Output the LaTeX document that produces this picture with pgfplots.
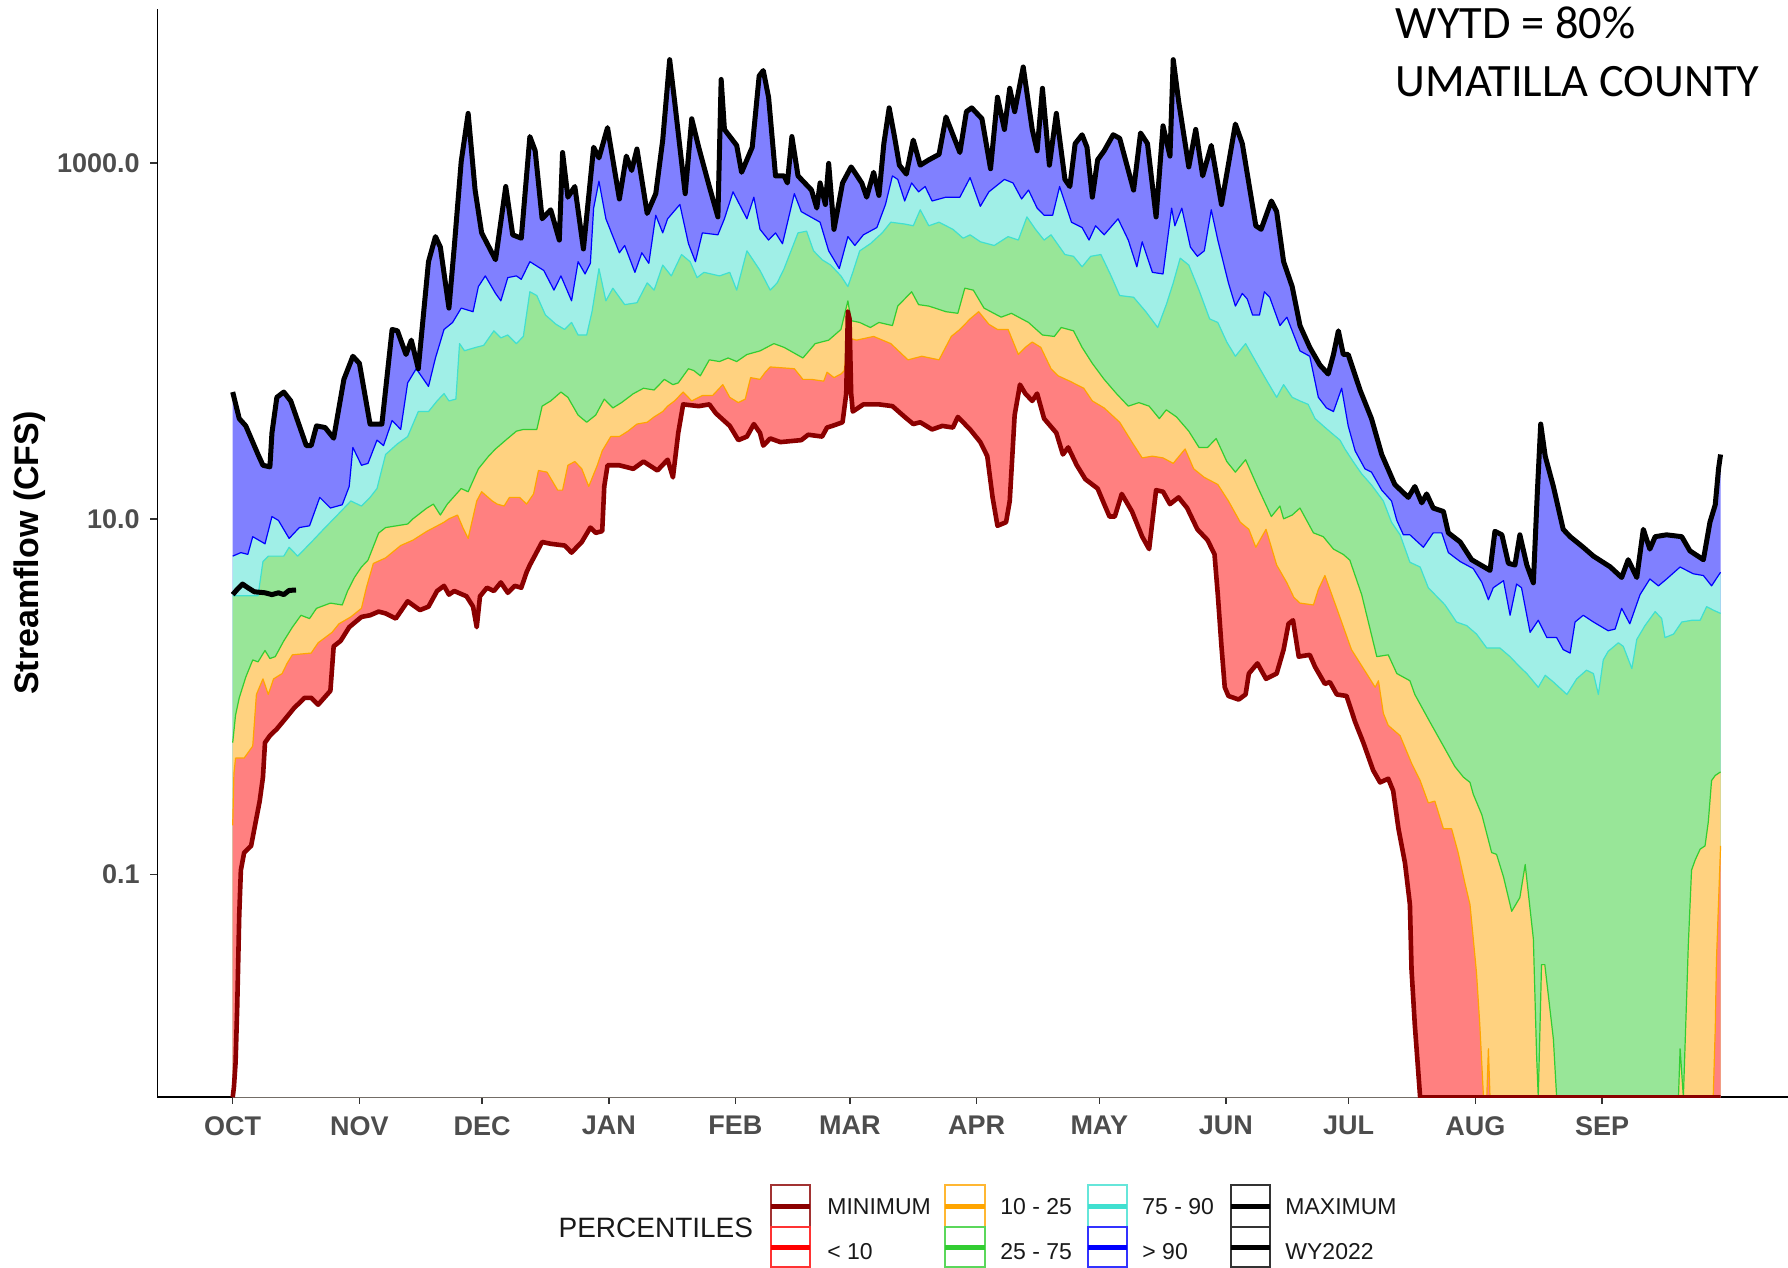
\documentclass[border=0pt]{standalone}
\usepackage{fontspec}
\setmainfont{Liberation Sans}
\newfontfamily\calibri{Carlito}
\usepackage{pgfplots}
\usepackage{pgfplotstable}
\pgfplotsset{compat=1.18}
\definecolor{tickgray}{HTML}{4D4D4D}
\definecolor{fblue}{HTML}{8080FF}
\definecolor{fcyan}{HTML}{A0EFE7}
\definecolor{fgreen}{HTML}{98E698}
\definecolor{forange}{HTML}{FFD280}
\definecolor{fred}{HTML}{FF8080}
\definecolor{lturq}{HTML}{40E0D0}
\definecolor{lgreen}{HTML}{32CD32}
\definecolor{lorange}{HTML}{FFA500}
\definecolor{ldarkred}{HTML}{8B0000}
\newcommand{\ticklabelfont}{\fontsize{13.5bp}{16bp}\selectfont\bfseries}
\newcommand{\ylabfont}{\fontsize{17bp}{20bp}\selectfont\bfseries}

\pgfplotstableread[row sep=\\]{
x y\\
0 51.6\\ 1.6 36.6\\ 3.2 33.3\\ 6.2 23.0\\ 7.4 20.0\\ 9.1 19.6\\ 9.6 30.4\\ 10.8 48.2\\ 12.5 51.6\\ 14.2 46.0\\
18 25.8\\ 19.2 25.8\\ 20.5 33.3\\ 22.6 32.6\\ 24.7 28.4\\ 27.2 60.8\\ 29.4 82.0\\ 31 74.8\\ 33.6 34.1\\ 36.5 34.1\\
39 116\\ 40.3 114\\ 42.4 83.9\\ 43.7 101\\ 45.4 69.8\\ 47.9 279\\ 49.6 386\\ 50.8 337\\ 52.9 153\\ 54.2 337\\
55.9 1019\\ 57.6 1901\\ 59.3 705\\ 60.9 405\\ 64.3 286\\ 66.8 738\\ 68.5 395\\ 70.6 378\\ 72.7 1409\\ 74 1172\\
75.7 486\\ 77.8 546\\ 79.9 369\\ 80.7 1146\\ 82 643\\ 83.7 738\\ 85.8 329\\ 88.3 1227\\ 89.6 1069\\ 91.7 1581\\
94.6 628\\ 96.3 1094\\ 97.6 908\\ 98.9 1199\\ 101.4 521\\ 103.5 673\\ 105.2 1346\\ 106.9 3811\\ 108.1 2239\\ 110.7 673\\
112.3 1774\\ 114 1227\\ 116.6 738\\ 118.7 498\\ 119.5 2951\\ 120.3 1545\\ 123.3 1256\\ 124.5 887\\ 127.1 1227\\ 128.8 3090\\
129.8 3311\\ 131.1 2344\\ 132.8 847\\ 134.9 847\\ 135.7 773\\ 136.8 1409\\ 138.3 847\\ 141.6 705\\ 142.9 558\\ 143.7 773\\
145 585\\ 145.8 995\\ 147.1 424\\ 149.2 773\\ 151.3 951\\ 153.9 773\\ 155.1 643\\ 156.8 887\\ 158.1 658\\ 159.3 1285\\
160.6 2042\\ 161.9 1409\\ 163.1 973\\ 164.8 867\\ 166.5 1346\\ 168.2 973\\ 170.3 1042\\ 172.8 1119\\ 174.5 1816\\ 176.2 1442\\
177.9 1146\\ 179.5 1945\\ 180.8 2042\\ 183.3 1774\\ 185.4 929\\ 187.1 2344\\ 188.8 1545\\ 190.1 2630\\ 191.3 1945\\ 193.4 3467\\
195.6 1545\\ 196.8 1172\\ 198.1 2630\\ 199.8 973\\ 201.5 1901\\ 203.6 809\\ 204.8 738\\ 206.1 1285\\ 207.8 1442\\ 209 1227\\
210.3 643\\ 211.6 1042\\ 213.2 1172\\ 215.4 1442\\ 217 1377\\ 220.4 705\\ 222.1 1476\\ 223.8 1285\\ 225.9 498\\ 227.6 1618\\
229.3 1094\\ 230.1 3811\\ 231.4 2239\\ 233.9 951\\ 235.6 1545\\ 237.3 847\\ 239.4 1256\\ 241.9 585\\ 245.3 1656\\ 247 1285\\
250.3 444\\ 251.6 424\\ 254.1 612\\ 255.4 533\\ 257.1 279\\ 259.2 202\\ 261.1 122\\ 263.5 92.0\\ 266 73.1\\ 268 65.2\\
269.3 83.9\\ 270.5 114\\ 271.7 83.9\\ 272.9 83.9\\ 275.8 53.0\\ 278.6 36.6\\ 281.1 23.0\\ 284.3 15.6\\ 287.6 13.2\\ 289.2 15.2\\
290.9 12.3\\ 292.1 13.8\\ 293.7 11.5\\ 296.2 11.0\\ 297.4 8.34\\ 300.3 7.41\\ 303.1 5.89\\ 307.6 5.13\\ 308.8 8.51\\ 310.5 8.13\\
312.1 5.62\\ 313.7 5.50\\ 314.9 8.13\\ 316.6 5.50\\ 318.2 4.37\\ 319.2 14.5\\ 320 34.1\\ 321.1 22.5\\ 323.1 15.2\\ 325.5 8.73\\
327.2 7.94\\ 330.4 6.92\\ 332.9 6.17\\ 337 5.37\\ 339.8 4.68\\ 341.4 5.89\\ 343.5 4.68\\ 345.1 8.73\\ 346.7 6.76\\ 348 7.94\\
350.8 8.13\\ 354.5 7.94\\ 356.5 6.61\\ 359.8 5.89\\ 361.4 9.57\\ 362.7 12.0\\ 363.5 19.1\\ 364 23.0\\
}\tmax

\pgfplotstableread[row sep=\\]{
x y\\
0 6.17\\ 2 6.46\\ 3.7 6.31\\ 4.9 7.94\\ 7.9 7.24\\ 9.6 10.3\\ 11.2 9.79\\ 13.8 7.76\\ 16.3 8.93\\ 18.8 9.14\\
21.3 13.2\\ 23.9 11.5\\ 26.8 12.0\\ 28.5 15.2\\ 29.4 25.2\\ 31.5 20.0\\ 33.1 20.5\\ 35.3 27.7\\ 36.9 25.8\\ 39 35.7\\
41.1 31.8\\ 42.8 58.1\\ 44.9 69.8\\ 47.9 55.5\\ 49.6 80.2\\ 51.7 116\\ 53.8 127\\ 55.9 153\\ 58.8 146\\ 60.1 202\\
61.8 232\\ 64.3 185\\ 65.6 168\\ 67.3 227\\ 69.4 232\\ 70.6 222\\ 72.7 279\\ 76.1 249\\ 78.6 193\\ 80.3 232\\
82.9 168\\ 84.5 279\\ 86.2 238\\ 87.5 273\\ 88.3 558\\ 89.6 791\\ 91.3 486\\ 94.6 313\\ 95.9 344\\ 98.4 243\\
100.1 313\\ 101.8 273\\ 103.5 509\\ 105.2 405\\ 106.4 486\\ 109.4 585\\ 111.5 352\\ 113.2 279\\ 114.9 405\\ 118.7 395\\
120.3 486\\ 122.4 689\\ 125.8 486\\ 127.5 643\\ 129 424\\ 131.1 369\\ 132.8 405\\ 134.5 352\\ 137.4 673\\ 139.1 533\\
143.7 465\\ 145.8 321\\ 148.4 255\\ 150.5 386\\ 152.2 344\\ 154.3 395\\ 157.6 434\\ 159.7 585\\ 161.4 847\\ 162.7 809\\
164.4 612\\ 166.1 773\\ 167.8 689\\ 169.4 738\\ 171.1 612\\ 174.5 643\\ 177.9 643\\ 180.4 828\\ 182.9 571\\ 185 689\\
188.8 809\\ 190.9 773\\ 193 628\\ 194.7 705\\ 196.8 558\\ 198.5 509\\ 200.6 509\\ 202.3 738\\ 205.2 465\\ 207.8 434\\
209.5 369\\ 211.1 444\\ 213.2 395\\ 216.6 486\\ 219.1 369\\ 221.2 261\\ 222.5 361\\ 225 243\\ 227.6 238\\ 229.7 558\\
230.5 444\\ 232.2 558\\ 234.3 337\\ 236 299\\ 237.7 321\\ 239.4 546\\ 241 369\\ 243.6 212\\ 245.3 157\\ 247 185\\
248.2 172\\ 249.5 140\\ 251.2 140\\ 252.4 189\\ 253.7 176\\ 256.2 122\\ 257.9 136\\ 261.1 87.9\\ 263.5 82.0\\ 265.6 48.2\\
267.6 42.0\\ 269.3 40.1\\ 271.3 54.2\\ 272.9 33.3\\ 274.6 24.1\\ 277 19.1\\ 278.6 18.3\\ 281.1 14.5\\ 283.5 12.6\\ 284.8 9.79\\
286.4 8.13\\ 288 8.13\\ 291.3 6.92\\ 293.7 8.34\\ 295.8 8.34\\ 297.4 6.46\\ 300.3 5.75\\ 303.5 5.25\\ 305.6 4.4\\ 307.2 3.51\\
308.4 4.10\\ 310.9 4.49\\ 312.5 2.87\\ 314.1 4.30\\ 315.3 4.10\\ 317.4 2.30\\ 319.4 2.69\\ 321.5 2.15\\ 323.9 2.15\\ 325.5 1.84\\
327.2 1.76\\ 328.4 2.63\\ 330.4 2.87\\ 332.9 2.63\\ 336.5 2.35\\ 338.2 2.40\\ 339.8 3.14\\ 341.8 2.57\\ 344.3 3.75\\ 346.7 4.59\\
348.8 4.20\\ 350.8 4.59\\ 354.1 5.36\\ 357.3 4.91\\ 359.8 4.80\\ 361.8 4.20\\ 364 5.01\\
}\tpninety

\pgfplotstableread[row sep=\\]{
x y\\
0 3.7\\ 6.2 3.7\\ 7.4 5.75\\ 8.7 6.17\\ 12.5 6.17\\ 13.8 6.92\\ 15.9 6.17\\ 19.7 7.59\\ 22.2 8.73\\ 25.6 10.5\\
28.9 12.6\\ 31.5 11.8\\ 33.6 13.2\\ 35.3 14.8\\ 37.4 23.0\\ 40.3 26.4\\ 42.8 29.0\\ 45.4 40.1\\ 47.9 40.1\\ 50 46.0\\
51.7 50.6\\ 52.9 46.0\\ 54.6 47.1\\ 55.5 96.6\\ 56.7 88.1\\ 59.7 92.3\\ 61.4 94.4\\ 63.9 114\\ 65.6 104\\ 67.3 108\\
69.4 96.6\\ 71.1 106\\ 72.7 189\\ 74.4 180\\ 76.5 140\\ 79.1 124\\ 81.2 116\\ 82.9 127\\ 84.5 108\\ 86.6 108\\
87.9 146\\ 89.6 255\\ 91.3 168\\ 93 198\\ 95.9 160\\ 98.9 164\\ 101.4 212\\ 103.1 193\\ 105.2 267\\ 107.3 232\\
109.8 306\\ 111.9 279\\ 113.6 227\\ 115.3 243\\ 119.1 232\\ 121.6 243\\ 123.3 193\\ 125.8 321\\ 129 249\\ 131.5 193\\
133.2 212\\ 134.9 255\\ 138.3 405\\ 140.4 414\\ 142.1 321\\ 144.2 286\\ 146.3 267\\ 148.8 232\\ 150.5 202\\ 151.7 243\\
153.4 321\\ 156 352\\ 158.9 405\\ 161 465\\ 164.4 454\\ 166.5 444\\ 168.2 546\\ 170.3 444\\ 172.8 465\\ 176.2 424\\
178.7 378\\ 180.4 395\\ 182.9 361\\ 186.3 344\\ 189.7 386\\ 192.2 369\\ 194.3 498\\ 196.4 424\\ 198.5 369\\ 200.2 395\\
203.6 306\\ 205.7 299\\ 207.8 261\\ 209.9 299\\ 212.4 306\\ 214.9 232\\ 217 180\\ 220.4 176\\ 223.4 146\\ 226.3 119\\
228.4 160\\ 230.1 212\\ 231.8 292\\ 233.9 267\\ 236.4 193\\ 239 133\\ 241 127\\ 243.2 98.6\\ 245.3 82.0\\ 247.8 96.6\\
250.3 76.6\\ 252.8 60.8\\ 255.4 48.2\\ 257.1 56.8\\ 259.2 48.2\\ 261.1 46.0\\ 263.1 44.0\\ 264.8 36.6\\ 266.8 33.3\\ 268.8 30.4\\
270.9 27.7\\ 272.1 24.7\\ 274.1 21.0\\ 276.2 17.9\\ 278.6 15.5\\ 281.5 12.6\\ 283.5 9.57\\ 285.6 8.13\\ 288 5.7\\ 290.5 5.36\\
292.5 4.10\\ 296.6 3.28\\ 299.4 2.63\\ 301.9 2.51\\ 304.3 2.25\\ 306.8 1.88\\ 310 1.88\\ 312.5 1.68\\ 314.9 1.47\\ 316.6 1.35\\
319.4 1.13\\ 321.1 1.32\\ 323.1 1.21\\ 326.4 1.03\\ 328.8 1.26\\ 331.2 1.41\\ 332.9 1.35\\ 334.1 1.03\\ 335.3 1.61\\ 336.5 1.80\\
339 2.01\\ 340.2 1.92\\ 342.3 1.44\\ 343.5 2.10\\ 345.5 2.51\\ 348 3.01\\ 349.6 2.75\\ 350.4 2.15\\ 352.5 2.25\\ 354.5 2.63\\
357 2.69\\ 359 2.69\\ 360.6 3.21\\ 362.2 3.07\\ 364 2.94\\
}\tpseventyfive

\pgfplotstableread[row sep=\\]{
x y\\
0 0.552\\ 0.7 0.789\\ 1.6 0.986\\ 3.2 1.29\\ 4.9 1.61\\ 6.2 1.57\\ 7.9 1.82\\ 9.1 1.64\\ 10.4 1.68\\ 12.5 2.06\\
14.6 2.46\\ 16.7 2.87\\ 18.8 2.75\\ 20.5 3.14\\ 23.9 3.36\\ 26.8 3.28\\ 28.1 3.93\\ 29.8 4.69\\ 31.5 5.36\\ 33.1 5.86\\
35.7 8.32\\ 37.4 8.93\\ 42.8 9.35\\ 44.1 10.0\\ 47.5 11.5\\ 49.1 12.1\\ 50.8 10.5\\ 52.5 12.1\\ 55.9 14.8\\ 57.6 14.2\\
60.1 19.1\\ 62.6 22.5\\ 64.3 24.7\\ 66.8 27.7\\ 69.4 31.1\\ 71.1 31.8\\ 74.4 31.8\\ 75.7 43.0\\ 77.8 46.0\\ 80.3 51.6\\
82 48.2\\ 84.5 38.3\\ 86.6 34.9\\ 88.8 38.3\\ 90.9 47.1\\ 93 42.0\\ 95.1 45.0\\ 98 50.5\\ 100.5 54.2\\ 103.1 53.0\\
105.6 60.8\\ 107.7 56.8\\ 109 58.1\\ 111.5 69.8\\ 112.8 68.2\\ 114.4 63.7\\ 116.6 78.3\\ 119.1 76.6\\ 121.2 80.2\\ 123.3 76.6\\
125.8 83.9\\ 129 87.9\\ 132.4 96.6\\ 134.9 92.0\\ 139.5 80.2\\ 142.5 96.6\\ 145.8 101\\ 148.8 116\\ 150.5 168\\ 151.3 130\\
153.4 127\\ 156 119\\ 158.1 127\\ 161.4 122\\ 162.7 157\\ 166.1 189\\ 167.8 160\\ 170.3 157\\ 174.5 146\\ 177.4 143\\
179.1 198\\ 181.2 193\\ 183.8 153\\ 188 136\\ 190.5 143\\ 194.7 127\\ 198.1 108\\ 201 106\\ 202.7 119\\ 205.7 114\\
207.8 92.0\\ 210.3 74.8\\ 213.2 60.8\\ 216.2 50.6\\ 219.1 43.0\\ 221.7 45.0\\ 224.2 43.0\\ 226.7 36.6\\ 228.4 41.0\\ 230.9 37.4\\
233.9 31.1\\ 236.4 25.2\\ 238.5 25.2\\ 240.6 28.3\\ 243.2 21.0\\ 245.3 18.3\\ 247.8 21.5\\ 250.7 15.2\\ 254.1 10.3\\ 256.2 11.8\\
257.1 10.0\\ 259.2 10.5\\ 261.1 11.5\\ 264.4 8.34\\ 266.8 7.94\\ 269.3 6.76\\ 271.7 6.31\\ 273.3 5.86\\ 276.2 3.75\\ 279.9 1.68\\
282.7 1.72\\ 284.8 1.35\\ 288 1.23\\ 289.2 1.03\\ 292.9 0.721\\ 296.2 0.528\\ 299 0.405\\ 301.1 0.353\\ 302.7 0.330\\ 303.5 0.283\\
305.6 0.217\\ 308 0.133\\ 309.2 0.130\\ 310.9 0.0970\\ 312.9 0.0622\\ 314.9 0.0743\\ 316.2 0.114\\ 318.2 0.0436\\ 319 0.00955\\ 319.4 0.0056\\
320.2 0.0312\\ 321 0.0312\\ 323.1 0.0119\\ 323.9 0.0056\\ 353.7 0.0056\\ 354.1 0.0105\\ 354.9 0.0056\\ 355.7 0.0204\\ 356.1 0.0398\\ 356.9 0.106\\
357.8 0.121\\ 359 0.139\\ 360.2 0.145\\ 361 0.198\\ 361.8 0.338\\ 362.7 0.361\\ 364 0.378\\
}\tptwentyfive

\pgfplotstableread[row sep=\\]{
x y\\
0 0.189\\ 0.3 0.370\\ 0.7 0.452\\ 2.8 0.452\\ 4.9 0.528\\ 5.8 1.03\\ 7.4 1.26\\ 8.7 1.03\\ 10 1.26\\ 12.1 1.35\\
13.3 1.54\\ 14.6 1.72\\ 19.2 1.76\\ 20.9 2.01\\ 24.3 2.30\\ 26 2.57\\ 28.9 2.81\\ 31.5 3.14\\ 32.7 4.10\\ 34.4 5.61\\
37.4 6.03\\ 41.1 7.08\\ 44.1 7.59\\ 47.5 8.51\\ 51.7 9.57\\ 52.9 10.0\\ 55 10.5\\ 56.3 8.93\\ 57.6 7.76\\ 59.7 12.6\\
60.9 14.2\\ 63.5 12.6\\ 64.7 12.1\\ 66.4 11.8\\ 67.7 13.2\\ 70.2 13.2\\ 71.9 12.1\\ 73.6 13.8\\ 74.8 18.7\\ 76.9 18.3\\
79.5 14.5\\ 80.7 14.5\\ 82 20.0\\ 83.7 21.0\\ 85.4 19.1\\ 87.1 15.2\\ 89.2 20.0\\ 90.4 24.1\\ 92.5 29.0\\ 94.6 29.0\\
96.7 31.1\\ 98.9 34.1\\ 101.4 34.9\\ 103.1 37.4\\ 105.2 40.1\\ 106.4 43.0\\ 108.1 46.0\\ 110.2 51.6\\ 112.3 46.0\\ 114.9 49.3\\
117.4 49.3\\ 119.9 56.8\\ 121.6 48.2\\ 123.7 45.0\\ 125.4 47.1\\ 126.7 62.2\\ 129 60.8\\ 130.3 66.7\\ 131.5 71.4\\ 137.4 69.8\\
139.5 60.8\\ 141.6 60.8\\ 144.6 59.4\\ 145.4 66.7\\ 147.1 62.2\\ 148.8 65.2\\ 149.6 68\\ 150.6 104\\ 152.6 101\\ 156.8 106\\
161 96.6\\ 165.2 78.3\\ 168.6 82.0\\ 172.8 78.3\\ 175.8 106\\ 177.9 116\\ 180.4 133\\ 182.5 146\\ 185 124\\ 187.1 116\\
189.7 116\\ 192.2 83.9\\ 193.9 92.0\\ 195.6 98.6\\ 197.7 92.0\\ 200.2 69.8\\ 201.9 63.7\\ 204.8 59.4\\ 208.2 54.2\\ 210.3 46.0\\
213.2 42.0\\ 217 34.9\\ 220 27.0\\ 222.5 22.0\\ 225 22.5\\ 227.6 22.0\\ 230.1 20.5\\ 233 24.7\\ 235.1 19.1\\ 237.7 17.1\\
241 15.6\\ 243.6 12.6\\ 246.5 9.57\\ 248.6 8.73\\ 250.3 6.92\\ 252.8 8.73\\ 255.4 5.50\\ 257.9 4.37\\ 259.6 3.62\\ 261.1 3.36\\
264.4 3.28\\ 265.6 4.01\\ 267.2 4.80\\ 270.1 3.14\\ 273.7 1.84\\ 277.4 1.35\\ 279.5 1.13\\ 280.3 1.23\\ 281.5 0.807\\ 282.7 0.690\\
285.6 0.604\\ 288.4 0.423\\ 290.5 0.338\\ 292.5 0.253\\ 294.1 0.259\\ 296.2 0.181\\ 298.2 0.181\\ 299.8 0.133\\ 301.5 0.0887\\ 302.7 0.0679\\
303.5 0.0436\\ 304.3 0.0279\\ 305.1 0.0143\\ 306 0.0056\\ 306.8 0.0056\\ 307.2 0.0105\\ 307.6 0.0056\\ 362.2 0.0056\\ 362.7 0.0136\\ 363 0.0333\\
364 0.145\\
}\tpten

\pgfplotstableread[row sep=\\]{
x y\\
0 0.0056\\ 0.3 0.0064\\ 0.7 0.00875\\ 1.1 0.0179\\ 1.6 0.0594\\ 2 0.106\\ 2.8 0.133\\ 4.5 0.145\\ 5.3 0.181\\ 6.6 0.259\\
7.4 0.353\\ 7.9 0.552\\ 9.1 0.604\\ 10.8 0.659\\ 12.9 0.753\\ 15 0.863\\ 17.6 0.986\\ 19.2 0.986\\ 20.9 0.902\\ 23.9 1.08\\
24.7 1.92\\ 26.4 2.06\\ 28.5 2.46\\ 31.5 2.81\\ 33.6 2.87\\ 35.7 3.01\\ 37.4 2.94\\ 39.9 2.75\\ 42.8 3.44\\ 45.8 3.07\\
47.9 3.21\\ 50 3.93\\ 51.7 4.20\\ 52.9 3.75\\ 54.2 3.93\\ 57.2 3.67\\ 58.8 3.21\\ 59.7 2.46\\ 60.5 3.67\\ 62.2 4.10\\
63.9 3.93\\ 65.6 4.39\\ 67.3 3.84\\ 69 4.20\\ 70.6 4.10\\ 71.9 5.01\\ 72.7 5.50\\ 75.7 7.41\\ 77.8 7.24\\ 81.2 7.08\\
82.9 6.46\\ 85.4 7.41\\ 87.5 8.93\\ 88.8 8.34\\ 90.4 8.53\\ 90.9 15.2\\ 91.7 20.0\\ 94.6 20.0\\ 98 19.1\\ 100.5 21.0\\
103.9 18.7\\ 106.4 21.5\\ 107.7 17.1\\ 109 30.4\\ 110.2 44.0\\ 114 43.0\\ 116.6 44.0\\ 118.2 39.2\\ 121.6 33.3\\ 123.7 27.7\\
125.8 29.0\\ 127.5 34.1\\ 129 30.4\\ 129.8 25.8\\ 131.5 28.3\\ 134 27.0\\ 139.1 27.7\\ 140.8 29.7\\ 144.2 29.0\\ 145.4 32.6\\
146.7 33.3\\ 149.2 34.9\\ 150.1 50.6\\ 150.5 146\\ 150.9 133\\ 151.3 50.6\\ 151.7 40.1\\ 154.3 44.0\\ 158.1 44.0\\ 161.4 43.0\\
164.4 37.4\\ 166.5 34.1\\ 168.2 34.9\\ 171.1 31.8\\ 173.6 33.3\\ 176.2 32.6\\ 177.4 37.4\\ 180.4 31.8\\ 182.9 27.0\\ 184.6 22.5\\
185.9 13.2\\ 187.1 9.14\\ 189.2 9.57\\ 190.1 12.6\\ 191.3 38.3\\ 192.6 56.8\\ 193.9 50.6\\ 195.6 46.0\\ 196.8 50.6\\ 198.5 36.6\\
201.5 30.4\\ 203.1 23.0\\ 204.4 25.2\\ 206.5 20.0\\ 208.6 16.7\\ 211.6 14.8\\ 213.2 12.1\\ 214.5 10.3\\ 215.8 10.3\\ 217.5 13.8\\
220 11.0\\ 222.5 7.94\\ 224.2 6.76\\ 225.9 14.5\\ 227.6 14.2\\ 229.3 12.1\\ 231.4 13.2\\ 233.5 11.5\\ 236 8.73\\ 238.5 7.59\\
240.2 6.31\\ 241 3.75\\ 241.9 1.92\\ 242.7 1.13\\ 243.6 1.01\\ 246.1 0.964\\ 247.8 1.03\\ 248.6 1.35\\ 250.7 1.54\\ 252.8 1.26\\
255.4 1.35\\ 257.1 1.84\\ 258.3 2.57\\ 259.4 2.69\\ 260.8 1.68\\ 263.5 1.72\\ 264.8 1.47\\ 267.2 1.18\\ 268.4 1.21\\ 270.1 1.03\\
272.5 1.01\\ 274.6 0.721\\ 276.6 0.552\\ 279 0.386\\ 280.7 0.330\\ 282.7 0.346\\ 283.9 0.296\\ 285.2 0.181\\ 286.8 0.116\\ 288 0.0679\\
288.4 0.0291\\ 289.2 0.0143\\ 290.5 0.0056\\ 364 0.0056\\
}\tmin

\pgfplotstableread[row sep=\\]{
x y\\
0 3.75\\ 1.1 4.01\\ 2.4 4.30\\ 3.7 4.10\\ 5.3 3.89\\ 7.9 3.84\\ 9.6 3.75\\ 11.2 3.84\\ 12.5 3.75\\ 13.8 3.96\\ 15.5 3.98\\
}\twy

\begin{document}
\begin{tikzpicture}
\path[use as bounding box] (-78.75bp,-85.5bp) rectangle (815.25bp,548.5bp);
\begin{axis}[
  at={(0,0)}, anchor=south west,
  scale only axis, width=815.25bp, height=544bp,
  xmin=-18.4, xmax=380.5,
  ymode=log, ymin=0.005623, ymax=7345,
  log origin y=infty,
  axis lines*=left,
  axis line style={-, line width=0.75bp, black},
  xtick={0,31,61,92,123,151,182,212,243,273,304,335},
  xticklabels={OCT,NOV,DEC,JAN,FEB,MAR,APR,MAY,JUN,JUL,AUG,SEP},
  ytick={0.1,10,1000},
  yticklabels={0.1,10.0,1000.0},
  xminorticks=false, yminorticks=false,
  tick align=outside, major tick length=3.5bp,
  tick style={line width=0.75bp, black!80},
  ticklabel style={font=\ticklabelfont, text=tickgray},
  xticklabel style={anchor=north, inner sep=0pt, yshift=-6bp},
  yticklabel style={anchor=east, inner sep=0pt, xshift=-5.25bp},
  ylabel={Streamflow (CFS)},
  every axis y label/.style={at={(axis description cs:-0.0785,0.5)}, rotate=90, anchor=center, font=\ylabfont},
  line join=round,
]
\addplot[fill=fblue, draw=none] table {\tmax} \closedcycle;
\addplot[fill=fcyan, draw=none] table {\tpninety} \closedcycle;
\addplot[fill=fgreen, draw=none] table {\tpseventyfive} \closedcycle;
\addplot[fill=forange, draw=none] table {\tptwentyfive} \closedcycle;
\addplot[fill=fred, draw=none] table {\tpten} \closedcycle;
\addplot[fill=white, draw=none] table {\tmin} \closedcycle;
\addplot[blue, line width=0.6bp] table {\tpninety};
\addplot[lturq, line width=0.6bp] table {\tpseventyfive};
\addplot[lgreen, line width=0.6bp] table {\tptwentyfive};
\addplot[lorange, line width=0.6bp] table {\tpten};
\addplot[ldarkred, line width=2.3bp] table {\tmin};
\addplot[black, line width=2.5bp] table {\tmax};
\addplot[black, line width=2.5bp] table {\twy};
\end{axis}
% annotation
\node[anchor=base west, inner sep=0pt, font=\calibri\fontsize{23.2bp}{28bp}\selectfont] at (619bp,529bp) {WYTD = 80\%};
\node[anchor=base west, inner sep=0pt, font=\calibri\fontsize{23.2bp}{28bp}\selectfont] at (619bp,500bp) {UMATILLA COUNTY};
% legend
\node[anchor=base east, inner sep=0pt, font=\fontsize{14bp}{17bp}\selectfont, text=black!90] at (298bp,-70bp) {PERCENTILES};
\begin{scope}[line width=0.75bp]
\draw[ldarkred!80] (306.75bp,-65bp) rectangle (326.25bp,-44bp);
\draw[ldarkred, line width=2.5bp] (306.75bp,-54.5bp) -- (326.25bp,-54.5bp);
\draw[red!80] (306.75bp,-85bp) rectangle (326.25bp,-65bp);
\draw[red, line width=2.5bp] (306.75bp,-75bp) -- (326.25bp,-75bp);
\draw[lorange!80] (393.75bp,-65bp) rectangle (413.75bp,-44bp);
\draw[lorange, line width=2.5bp] (393.75bp,-54.5bp) -- (413.75bp,-54.5bp);
\draw[lgreen!80] (393.75bp,-85bp) rectangle (413.75bp,-65bp);
\draw[lgreen, line width=2.5bp] (393.75bp,-75bp) -- (413.75bp,-75bp);
\draw[lturq!80] (465.25bp,-65bp) rectangle (484.75bp,-44bp);
\draw[lturq, line width=2.5bp] (465.25bp,-54.5bp) -- (484.75bp,-54.5bp);
\draw[blue!80] (465.25bp,-85bp) rectangle (484.75bp,-65bp);
\draw[blue, line width=2.5bp] (465.25bp,-75bp) -- (484.75bp,-75bp);
\draw[black!80] (536.75bp,-65bp) rectangle (556.25bp,-44bp);
\draw[black, line width=2.5bp] (536.75bp,-54.5bp) -- (556.25bp,-54.5bp);
\draw[black!80] (536.75bp,-85bp) rectangle (556.25bp,-65bp);
\draw[black, line width=2.5bp] (536.75bp,-75bp) -- (556.25bp,-75bp);
\end{scope}
\begin{scope}[every node/.style={anchor=base west, inner sep=0pt, font=\fontsize{11.5bp}{14bp}\selectfont, text=black!90}]
\node at (334.75bp,-58.9bp) {MINIMUM};
\node at (334.75bp,-81.4bp) {< 10};
\node at (421.25bp,-58.9bp) {10 - 25};
\node at (421.25bp,-81.4bp) {25 - 75};
\node at (492.25bp,-58.9bp) {75 - 90};
\node at (492.25bp,-81.4bp) {> 90};
\node at (563.75bp,-58.9bp) {MAXIMUM};
\node at (563.75bp,-81.4bp) {WY2022};
\end{scope}
\end{tikzpicture}
\end{document}
